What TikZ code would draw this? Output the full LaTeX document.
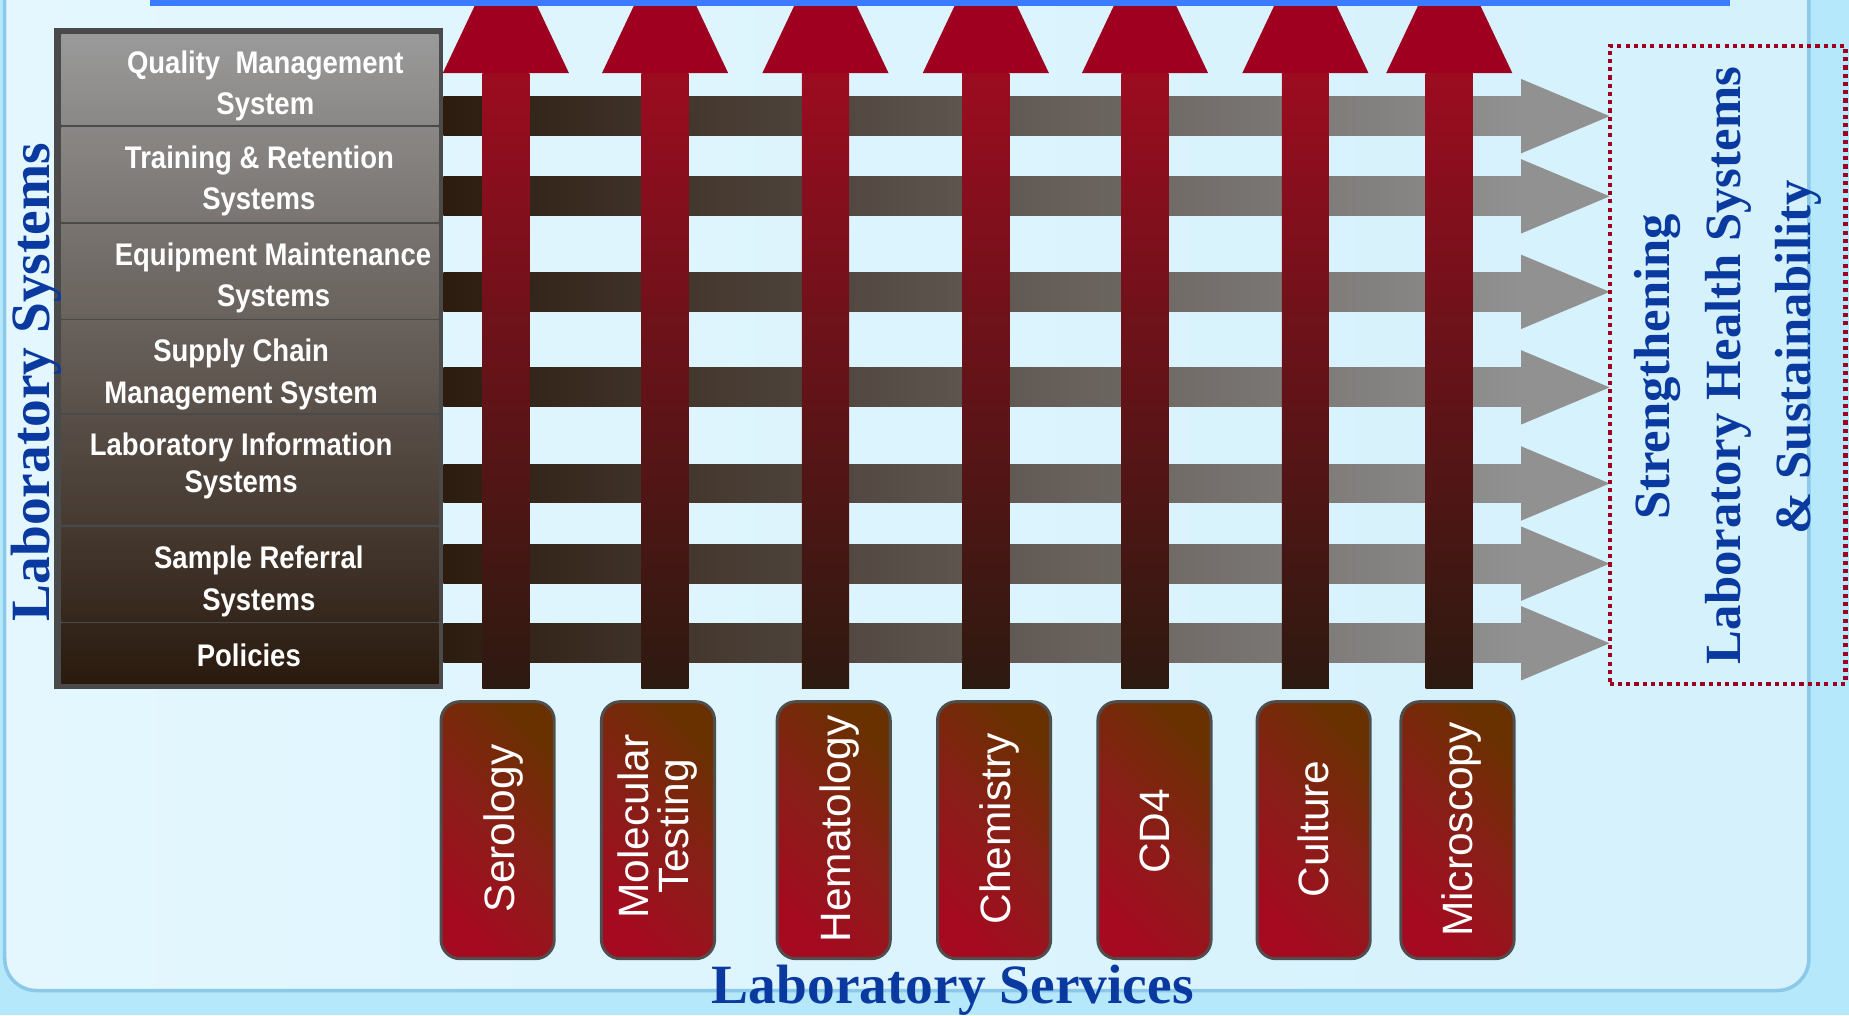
\documentclass[tikz,border=0pt]{standalone}
\usepackage{fontspec}
\newfontfamily\cellfont{Liberation Sans}[FakeStretch=0.88]
\newfontfamily\svcfont{Liberation Sans}
\newfontfamily\bluefont{Liberation Serif}
\definecolor{bgOut}{HTML}{B4E8FA}
\definecolor{bgIn}{HTML}{D4F1FC}
\definecolor{bgInLight}{HTML}{E4F7FE}
\definecolor{panelLine}{HTML}{8CC8E8}
\definecolor{topBlue}{HTML}{3A7BFF}
\definecolor{stackTop}{HTML}{9A9A9A}
\definecolor{stackBot}{HTML}{2A1A0E}
\definecolor{stackFrame}{HTML}{4A4A4A}
\definecolor{barL}{HTML}{2C1C10}
\definecolor{barR}{HTML}{919191}
\definecolor{redHead}{HTML}{A00020}
\definecolor{redTop}{HTML}{9C0C20}
\definecolor{redBot}{HTML}{2C1A10}
\definecolor{svcRed}{HTML}{A50A20}
\definecolor{svcMid}{HTML}{8A1E18}
\definecolor{svcBrown}{HTML}{693100}
\definecolor{svcLine}{HTML}{4E4E4E}
\definecolor{labBlue}{HTML}{0A3AA0}
\definecolor{dotRed}{HTML}{A00020}
\begin{document}
\begin{tikzpicture}[x=1pt,y=-1pt,
  stackcell/.style={anchor=north west, inner sep=0pt, outer sep=0pt, minimum width=320pt, draw=none},
  celltext/.style={anchor=base, inner sep=0pt, text=white, font=\cellfont\bfseries\fontsize{26.5}{30}\selectfont},
  svcbox/.style={draw=svcLine, line width=2.5pt, rounded corners=16pt, minimum width=96pt, minimum height=218pt, inner sep=0pt, top color=svcBrown, bottom color=svcRed, middle color=svcMid, shading angle=-45},
  svctext/.style={rotate=90, anchor=base, inner sep=0pt, text=white, font=\svcfont\fontsize{36}{36}\selectfont},
  bluetext/.style={anchor=base, inner sep=0pt, text=labBlue, font=\bluefont\bfseries\fontsize{47}{47}\selectfont},
  goaltext/.style={anchor=base, inner sep=0pt, rotate=90, text=labBlue, font=\bluefont\bfseries\fontsize{43}{43}\selectfont},
  goalbox/.style={draw=dotRed, line width=3.5pt, dash pattern=on 3.5pt off 3.5pt, minimum width=200pt, minimum height=541pt, inner sep=0pt},
  hbar/.style={left color=barL, right color=barR},
  vshaft/.style={top color=redTop, bottom color=redBot}
]
\useasboundingbox (0,0) rectangle (1568,861);
\clip (0,0) rectangle (1568,861);
% background
\fill[bgOut] (0,0) rectangle (1568,861);
\shade[left color=bgInLight, right color=bgIn, rounded corners=27pt] (4,-60) rectangle (1534,840);
\draw[panelLine, line width=3pt, rounded corners=27pt] (4,-60) rectangle (1534,840);

% laboratory systems stack
\node[stackcell, fill=stackFrame, minimum width=330pt, minimum height=560pt] (stack) at (46,24) {};
\node[stackcell, minimum height=77pt, top color=stackTop!100!stackBot, bottom color=stackTop!86!stackBot] (qms) at (52,29) {};
\node[stackcell, minimum height=80pt, top color=stackTop!85!stackBot, bottom color=stackTop!71!stackBot] (trs) at (52,108) {};
\node[stackcell, minimum height=80pt, top color=stackTop!70!stackBot, bottom color=stackTop!56!stackBot] (ems) at (52,190) {};
\node[stackcell, minimum height=78pt, top color=stackTop!56!stackBot, bottom color=stackTop!42!stackBot] (scm) at (52,272) {};
\node[stackcell, minimum height=93pt, top color=stackTop!41!stackBot, bottom color=stackTop!25!stackBot] (lis) at (52,352) {};
\node[stackcell, minimum height=80pt, top color=stackTop!24!stackBot, bottom color=stackTop!10!stackBot] (srs) at (52,447) {};
\node[stackcell, minimum height=51pt, top color=stackTop!9!stackBot, bottom color=stackTop!0!stackBot] (pol) at (52,529) {};

\node[celltext] (qmsA) at (225,62) {Quality~ Management};
\node[celltext] (qmsB) at (225,97.5) {System};
\node[celltext] (trsA) at (220,143) {Training \& Retention};
\node[celltext] (trsB) at (219.5,178) {Systems};
\node[celltext] (emsA) at (231.5,225.5) {Equipment Maintenance};
\node[celltext] (emsB) at (232,259.5) {Systems};
\node[celltext] (scmA) at (204.5,306.5) {Supply Chain};
\node[celltext] (scmB) at (204.5,342) {Management System};
\node[celltext] (lisA) at (204.5,386) {Laboratory Information};
\node[celltext] (lisB) at (204.5,418) {Systems};
\node[celltext] (srsA) at (219.5,482.5) {Sample Referral};
\node[celltext] (srsB) at (219.5,518) {Systems};
\node[celltext] (polA) at (211,565.5) {Policies};

% horizontal grey arrows
\foreach \yy in {98.5,166.5,247.5,328.5,410,478,545.5} {
  \shade[hbar] (376,\yy-16.5) rectangle (1290,\yy+16.5);
  \fill[barR] (1290,\yy-31.5) -- (1365,\yy) -- (1290,\yy+31.5) -- cycle;
}

% vertical red arrows
\foreach \xx in {429,564,700,836,971,1107,1229} {
  \shade[vshaft] (\xx-20,62) rectangle (\xx+20,583.5);
  \fill[redHead] (\xx-53.5,62) -- (\xx,-51) -- (\xx+53.5,62) -- cycle;
}

% top blue line
\fill[topBlue] (127,0) rectangle (1467,5);

% service boxes
\node[svcbox] (serB) at (422,704) {};
\node[svcbox] (molB) at (558,704) {};
\node[svcbox] (hemB) at (707,704) {};
\node[svcbox] (cheB) at (843,704) {};
\node[svcbox] (cd4B) at (979,704) {};
\node[svcbox] (culB) at (1114,704) {};
\node[svcbox] (micB) at (1236,704) {};

\node[svctext] (serT) at (436,702.5) {Serology};
\node[svctext] (molT) at (550,701) {Molecular};
\node[svctext] (tesT) at (584,701) {Testing};
\node[svctext] (hemT) at (721,703) {Hematology};
\node[svctext] (cheT) at (857,703) {Chemistry};
\node[svctext] (cd4T) at (992,705) {CD4};
\node[svctext] (culT) at (1127,703) {Culture};
\node[svctext] (micT) at (1249,703.5) {Microscopy};

% goal box
\node[goalbox] (goal) at (1465,309.5) {};
\node[goaltext] (goalA) at (1416,311) {Strengthening};
\node[goaltext] (goalB) at (1476,310) {Laboratory Health Systems};
\node[goaltext] (goalC) at (1535,303) {\& Sustainability};

% axis titles
\node[bluetext, rotate=90] (labsys) at (42,324) {Laboratory Systems};
\node[bluetext] (labsvc) at (808,851) {Laboratory Services};
\end{tikzpicture}
\end{document}
